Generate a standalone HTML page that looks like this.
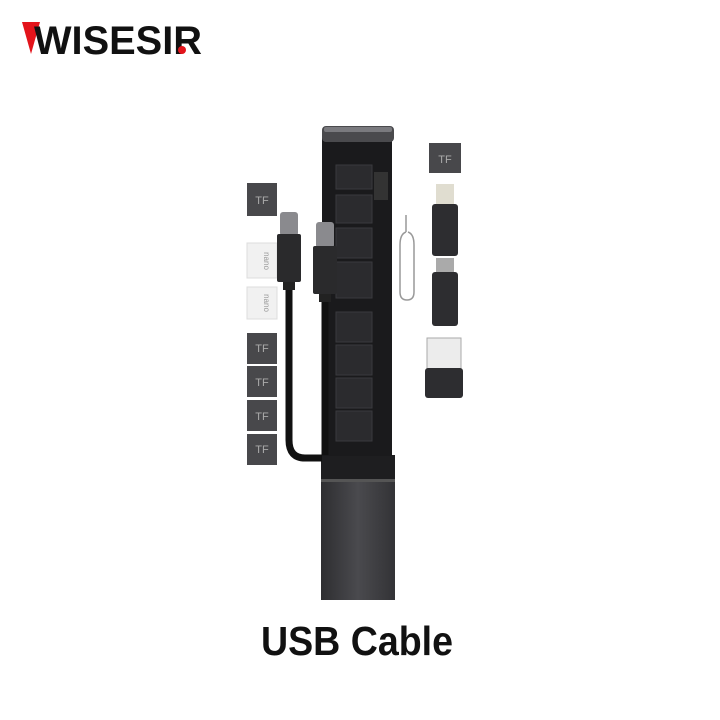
<!DOCTYPE html>
<html><head><meta charset="utf-8"><style>
html,body{margin:0;padding:0;background:#fff}
svg{display:block}
</style></head><body>
<svg width="720" height="720" viewBox="0 0 720 720" xmlns="http://www.w3.org/2000/svg">
<defs>
<linearGradient id="sl" x1="0" x2="1" y1="0" y2="0">
<stop offset="0" stop-color="#2e2e31"/><stop offset="0.5" stop-color="#4a4a4e"/><stop offset="1" stop-color="#333336"/>
</linearGradient>
</defs>
<rect width="720" height="720" fill="#fff"/>
<!-- logo -->
<polygon points="22,22 40,22 31,54" fill="#e3141b"/>
<text x="34" y="54" font-family="Liberation Sans, sans-serif" font-weight="bold" font-size="40" textLength="168" lengthAdjust="spacingAndGlyphs" fill="#111">WISESIR</text>
<circle cx="182" cy="50" r="4" fill="#e3141b"/>

<!-- sleeve bottom -->
<rect x="321" y="455" width="74" height="145" fill="url(#sl)"/>
<rect x="321" y="455" width="74" height="24" fill="#1e1e20"/>
<rect x="321" y="479" width="74" height="3" fill="#555"/>
<!-- main body -->
<rect x="322" y="138" width="70" height="318" fill="#1a1a1c"/>
<rect x="322" y="126" width="72" height="16" rx="4" fill="#4a4a4d"/>
<rect x="324" y="127" width="68" height="5" rx="2" fill="#7a7a7e"/>
<g fill="#2b2b2e" stroke="#3a3a3e" stroke-width="1">
<rect x="336" y="165" width="36" height="24"/>
<rect x="336" y="195" width="36" height="28"/>
<rect x="336" y="228" width="36" height="30"/>
<rect x="336" y="262" width="36" height="36"/>
<rect x="336" y="312" width="36" height="30"/>
<rect x="336" y="345" width="36" height="30"/>
<rect x="336" y="378" width="36" height="30"/>
<rect x="336" y="411" width="36" height="30"/>
</g>
<rect x="374" y="172" width="14" height="28" fill="#333"/>

<!-- left cards -->
<g font-family="Liberation Sans, sans-serif" font-size="11" text-anchor="middle">
<rect x="247" y="183" width="30" height="33" fill="#48484b"/><text x="262" y="204" fill="#aaa">TF</text>
<rect x="247" y="243" width="30" height="35" fill="#f1f1f1" stroke="#ddd"/>
<text x="0" y="0" font-size="8" fill="#999" transform="translate(264,261) rotate(90)">nano</text>
<rect x="247" y="287" width="30" height="32" fill="#f1f1f1" stroke="#ddd"/>
<text x="0" y="0" font-size="8" fill="#999" transform="translate(264,303) rotate(90)">nano</text>
<rect x="247" y="333" width="30" height="31" fill="#48484b"/><text x="262" y="352" fill="#aaa">TF</text>
<rect x="247" y="366" width="30" height="31" fill="#48484b"/><text x="262" y="386" fill="#aaa">TF</text>
<rect x="247" y="400" width="30" height="31" fill="#48484b"/><text x="262" y="420" fill="#aaa">TF</text>
<rect x="247" y="434" width="30" height="31" fill="#48484b"/><text x="262" y="453" fill="#aaa">TF</text>
<rect x="429" y="143" width="32" height="30" fill="#48484b"/><text x="445" y="163" fill="#aaa">TF</text>
</g>

<!-- cable -->
<path d="M289 288 V440 Q289 458 305 458 H322" stroke="#111" stroke-width="7" fill="none"/>
<path d="M325 300 V455" stroke="#111" stroke-width="7" fill="none"/>
<rect x="280" y="212" width="18" height="24" rx="3" fill="#8a8a8e"/>
<rect x="277" y="234" width="24" height="48" rx="2" fill="#2a2a2c"/>
<rect x="283" y="282" width="12" height="8" fill="#222"/>
<rect x="316" y="222" width="18" height="26" rx="3" fill="#8a8a8e"/>
<rect x="313" y="246" width="24" height="48" rx="2" fill="#2a2a2c"/>
<rect x="319" y="294" width="12" height="8" fill="#222"/>

<!-- sim pin -->
<path d="M406 215 V232 M406 232 Q400 234 400 245 V292 Q400 300 407 300 Q414 300 414 292 V245 Q414 234 408 232" stroke="#999" stroke-width="1.5" fill="none"/>

<!-- right adapters -->
<rect x="436" y="184" width="18" height="22" fill="#e0ddd0"/>
<rect x="432" y="204" width="26" height="52" rx="3" fill="#2d2d30"/>
<rect x="436" y="258" width="18" height="14" fill="#aaa"/>
<rect x="432" y="272" width="26" height="54" rx="3" fill="#2d2d30"/>
<rect x="427" y="338" width="34" height="32" fill="#ececec" stroke="#aaa"/>
<rect x="425" y="368" width="38" height="30" rx="3" fill="#2d2d30"/>

<text x="357" y="655" font-family="Liberation Sans, sans-serif" font-weight="bold" font-size="41" text-anchor="middle" textLength="192" lengthAdjust="spacingAndGlyphs" fill="#111">USB Cable</text>
</svg>
</body></html>
